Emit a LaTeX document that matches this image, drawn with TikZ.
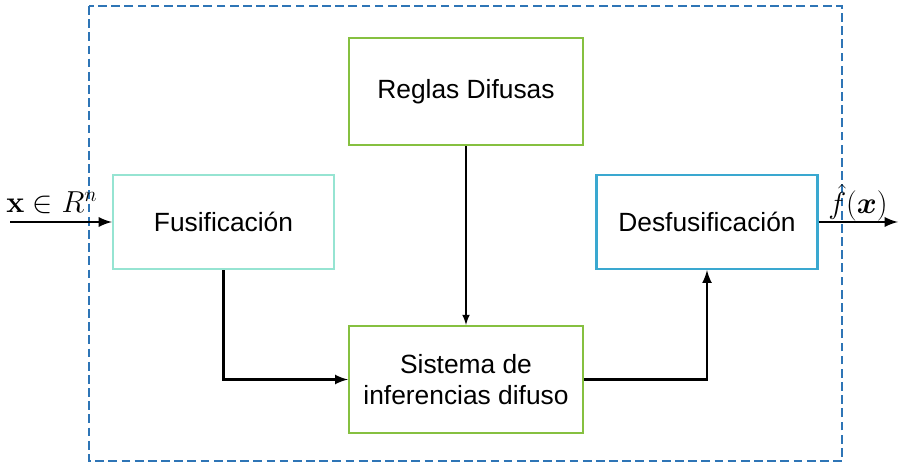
\documentclass[tikz,border=0pt]{standalone}
\usepackage{amsmath}
\usepackage{amssymb}
\usepackage{bm}
\usepackage[no-math]{fontspec}
\setmainfont{Liberation Sans}
\usetikzlibrary{calc,arrows,positioning}

\definecolor{FrameBlue}{RGB}{46,117,182}
\definecolor{RuleGreen}{RGB}{134,192,64}
\definecolor{FuzzAqua}{RGB}{150,228,210}
\definecolor{DefuzzBlue}{RGB}{58,168,208}

\begin{document}
\begin{tikzpicture}[x=0.02cm,y=-0.02cm]

  % Styles
  \tikzstyle{every node}=[text centered,font=\fontsize{15}{18}\selectfont]
  \tikzstyle{block}=[draw,line width=1.2pt,minimum width=4.68cm,minimum height=2.14cm,inner sep=0pt,align=center]
  \tikzstyle{side}=[draw,line width=1.2pt,minimum width=4.42cm,minimum height=1.88cm,inner sep=0pt]
  \tikzstyle{link}=[line width=1.5pt,-latex]
  \tikzstyle{sig}=[line width=1.6pt,-latex]
  \tikzstyle{mathlabel}=[inner sep=0pt,font=\fontsize{18}{22}\selectfont]

  \useasboundingbox (0,0) rectangle (899,465);

  % Frame
  \draw[FrameBlue,line width=1.3pt,dash pattern=on 5pt off 2.5pt] (89,6) rectangle (842,461);

  % Blocks
  \node[block,draw=RuleGreen] (reglas) at (466,91.5) {Reglas Difusas};
  \node[block,draw=RuleGreen] (sistema) at (466,379.5) {Sistema de\\inferencias difuso};
  \node[side,draw=FuzzAqua] (fusif) at (223.5,222) {Fusificación};
  \node[side,draw=DefuzzBlue] (desfusif) at (707,222) {Desfusificación};

  % Input / output
  \coordinate (entrada) at (10,222);
  \coordinate (salida) at (898,222);
  \node[mathlabel] (xlabel) at (52,203) {$\mathbf{x}\in R^{n}$};
  \node[mathlabel] (flabel) at (858,203) {$\hat{f}(\bm{x})$};

  % Connections
  \draw[sig] (entrada) -- (fusif.west);
  \draw[sig] (desfusif.east) -- (salida);
  \draw[line width=1pt,-latex] (reglas.south) -- (sistema.north);
  \draw[link] (fusif.south) |- (sistema.west);
  \draw[link] (sistema.east) -| (desfusif.south);

\end{tikzpicture}
\end{document}
